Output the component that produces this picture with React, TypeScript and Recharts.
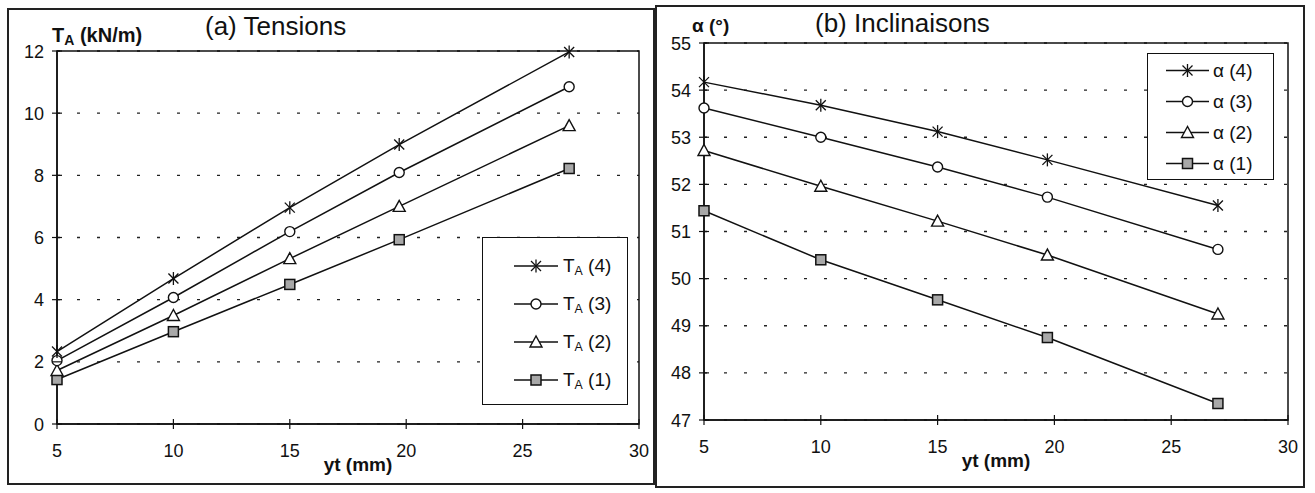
import React from "react";
import { LineChart, Line, XAxis, YAxis, CartesianGrid, ReferenceArea, Legend, Label } from "recharts";

const yt = [5, 10, 15, 19.7, 27];
const ta1 = [1.43, 2.97, 4.49, 5.93, 8.22];
const ta2 = [1.72, 3.49, 5.32, 7.0, 9.6];
const ta3 = [2.04, 4.07, 6.19, 8.09, 10.85];
const ta4 = [2.33, 4.68, 6.96, 8.99, 11.97];
const alpha1 = [51.44, 50.4, 49.55, 48.75, 47.35];
const alpha2 = [52.72, 51.96, 51.22, 50.5, 49.25];
const alpha3 = [53.62, 53.0, 52.37, 51.73, 50.62];
const alpha4 = [54.17, 53.68, 53.12, 52.52, 51.55];

const xTicks = [5, 10, 15, 20, 25, 30];
const taTicks = [0, 2, 4, 6, 8, 10, 12];
const alphaTicks = [47, 48, 49, 50, 51, 52, 53, 54, 55];

const taRows = yt.map((x, i) => ({ yt: x, s1: ta1[i], s2: ta2[i], s3: ta3[i], s4: ta4[i] }));
const alphaRows = yt.map((x, i) => ({ yt: x, s1: alpha1[i], s2: alpha2[i], s3: alpha3[i], s4: alpha4[i] }));

const FONT = "'Liberation Sans', Arial, sans-serif";
const INK = "#111";
const TICK = 5;
const GAP_Y = 8;
const GAP_X = 12;

type Kind = "star" | "circle" | "triangle" | "square";
const kinds: Kind[] = ["square", "triangle", "circle", "star"];

function Marker({ kind, cx, cy }: { kind: Kind; cx: number; cy: number }) {
  if (cx == null || cy == null) return null;
  if (kind === "star") {
    return (
      <g stroke={INK} strokeWidth={1.3}>
        <line x1={cx - 5} y1={cy - 5} x2={cx + 5} y2={cy + 5} />
        <line x1={cx - 5} y1={cy + 5} x2={cx + 5} y2={cy - 5} />
        <line x1={cx} y1={cy - 6.5} x2={cx} y2={cy + 6.5} />
      </g>
    );
  }
  if (kind === "circle") return <circle cx={cx} cy={cy} r={5} fill="#fff" stroke={INK} strokeWidth={1.4} />;
  if (kind === "triangle")
    return (
      <polygon
        points={`${cx},${cy - 6} ${cx - 6},${cy + 5} ${cx + 6},${cy + 5}`}
        fill="#fff"
        stroke={INK}
        strokeWidth={1.4}
      />
    );
  return <rect x={cx - 5} y={cy - 5} width={10} height={10} fill="#a8a8a8" stroke={INK} strokeWidth={1.5} />;
}

function YTick(p: any) {
  const ax = p.x + TICK + GAP_Y;
  return (
    <g>
      <line x1={ax - TICK} x2={ax + TICK} y1={p.y} y2={p.y} stroke={INK} strokeWidth={1.2} />
      <text x={p.x} y={p.y} dy={6.5} textAnchor="end" fontSize={18} fontFamily={FONT} fill={INK}>
        {p.payload.value}
      </text>
    </g>
  );
}

function XTick(p: any) {
  const ay = p.y - TICK - GAP_X;
  return (
    <g>
      <line x1={p.x} x2={p.x} y1={ay - TICK} y2={ay + TICK} stroke={INK} strokeWidth={1.2} />
      <text x={p.x} y={p.y} dy={15.5} textAnchor="middle" fontSize={18} fontFamily={FONT} fill={INK}>
        {p.payload.value}
      </text>
    </g>
  );
}

function LegendBox({ labels, box, row, padTop, line, textX, fontSize }: any) {
  return (
    <div
      style={{
        width: box.w,
        height: box.h,
        border: `1.5px solid ${INK}`,
        boxSizing: "border-box",
        background: "#fff",
        paddingTop: padTop,
        fontFamily: FONT,
        color: INK,
      }}
    >
      {[3, 2, 1, 0].map((i) => (
        <div key={i} style={{ position: "relative", height: row }}>
          <svg width={textX} height={row} style={{ position: "absolute", left: 0, top: 0 }}>
            <line x1={line[0]} x2={line[1]} y1={row / 2} y2={row / 2} stroke={INK} strokeWidth={1.5} />
            <Marker kind={kinds[i]} cx={(line[0] + line[1]) / 2} cy={row / 2} />
          </svg>
          <div
            style={{
              position: "absolute",
              left: textX,
              top: 0,
              height: row,
              lineHeight: `${row}px`,
              fontSize,
              whiteSpace: "nowrap",
            }}
          >
            {labels[i]}
          </div>
        </div>
      ))}
    </div>
  );
}

const taLabels = [1, 2, 3, 4].map((n) => (
  <span key={n}>
    T<sub style={{ fontSize: "0.65em", verticalAlign: "-0.25em" }}>A</sub> ({n})
  </span>
));
const alphaLabels = [1, 2, 3, 4].map((n) => <span key={n}>α ({n})</span>);

function lines() {
  return kinds.map((k, i) => (
    <Line
      key={k}
      type="linear"
      dataKey={`s${i + 1}`}
      stroke={INK}
      strokeWidth={1.5}
      isAnimationActive={false}
      dot={(p: any) => <Marker key={`${k}-${p.index}`} kind={k} cx={p.cx} cy={p.cy} />}
      activeDot={false}
    />
  ));
}

const axisLabelStyle = { fontWeight: 700, fontSize: 19, fill: INK, fontFamily: FONT };

export default function App() {
  return (
    <div
      style={{
        position: "absolute",
        left: 0,
        top: 0,
        width: 1315,
        height: 493,
        background: "#fff",
        fontFamily: FONT,
        color: INK,
        overflow: "hidden",
      }}
    >
      <div style={{ position: "absolute", left: 7, top: 8, width: 648, height: 477, border: `2px solid #222`, boxSizing: "border-box" }} />
      <div style={{ position: "absolute", left: 655, top: 5, width: 650, height: 483, border: `2px solid #222`, boxSizing: "border-box" }} />

      {/* (a) Tensions */}
      <div style={{ position: "absolute", left: 0, top: 0 }}>
        <LineChart width={660} height={493} data={taRows} margin={{ top: 51, right: 21, bottom: 39, left: 17 }}>
          <CartesianGrid vertical={false} stroke="#222" strokeWidth={1.3} strokeDasharray="3 17" />
          <XAxis
            type="number"
            dataKey="yt"
            domain={[5, 30]}
            ticks={xTicks}
            interval={0}
            height={30}
            tickSize={TICK}
            tickMargin={GAP_X}
            tickLine={false}
            axisLine={{ stroke: INK, strokeWidth: 1.5 }}
            tick={(p: any) => <XTick {...p} />}
          >
            <Label value="yt (mm)" position="bottom" offset={4} dx={10} style={axisLabelStyle} />
          </XAxis>
          <YAxis
            type="number"
            domain={[0, 12]}
            ticks={taTicks}
            interval={0}
            width={40}
            tickSize={TICK}
            tickMargin={GAP_Y}
            tickLine={false}
            axisLine={{ stroke: INK, strokeWidth: 1.5 }}
            tick={(p: any) => <YTick {...p} />}
          />
          <ReferenceArea x1={5} x2={30} y1={0} y2={12} fill="none" stroke={INK} strokeWidth={1.5} />
          {lines()}
          <Legend
            layout="vertical"
            align="center"
            verticalAlign="middle"
            wrapperStyle={{ left: 482, top: 237, width: 146, height: 168 }}
            content={() => (
              <LegendBox labels={taLabels} box={{ w: 146, h: 168 }} row={38} padTop={9} line={[31, 75]} textX={80} fontSize={19} />
            )}
          />
        </LineChart>
      </div>

      {/* (b) Inclinaisons */}
      <div style={{ position: "absolute", left: 655, top: 0 }}>
        <LineChart width={660} height={493} data={alphaRows} margin={{ top: 43, right: 27, bottom: 43, left: 9 }}>
          <CartesianGrid vertical={false} stroke="#222" strokeWidth={1.3} strokeDasharray="3 17" />
          <XAxis
            type="number"
            dataKey="yt"
            domain={[5, 30]}
            ticks={xTicks}
            interval={0}
            height={30}
            tickSize={TICK}
            tickMargin={GAP_X}
            tickLine={false}
            axisLine={{ stroke: INK, strokeWidth: 1.5 }}
            tick={(p: any) => <XTick {...p} />}
          >
            <Label value="yt (mm)" position="bottom" offset={4} style={axisLabelStyle} />
          </XAxis>
          <YAxis
            type="number"
            domain={[47, 55]}
            ticks={alphaTicks}
            interval={0}
            width={40}
            tickSize={TICK}
            tickMargin={GAP_Y}
            tickLine={false}
            axisLine={{ stroke: INK, strokeWidth: 1.5 }}
            tick={(p: any) => <YTick {...p} />}
          />
          <ReferenceArea x1={5} x2={30} y1={47} y2={55} fill="none" stroke={INK} strokeWidth={1.5} />
          {lines()}
          <Legend
            layout="vertical"
            align="center"
            verticalAlign="middle"
            wrapperStyle={{ left: 492, top: 53, width: 127, height: 127 }}
            content={() => (
              <LegendBox labels={alphaLabels} box={{ w: 127, h: 127 }} row={31} padTop={1} line={[18, 61]} textX={65} fontSize={19} />
            )}
          />
        </LineChart>
      </div>

      <div style={{ position: "absolute", left: 205, top: 11, fontSize: 26, lineHeight: "30px", whiteSpace: "nowrap" }}>(a) Tensions</div>
      <div style={{ position: "absolute", left: 52, top: 23, fontSize: 20, fontWeight: 700, lineHeight: "24px", whiteSpace: "nowrap" }}>
        T<sub style={{ fontSize: "0.7em", verticalAlign: "-0.2em" }}>A</sub> (kN/m)
      </div>
      <div style={{ position: "absolute", left: 815, top: 8, fontSize: 26, lineHeight: "30px", whiteSpace: "nowrap" }}>(b) Inclinaisons</div>
      <div style={{ position: "absolute", left: 692, top: 15, fontSize: 19, fontWeight: 700, lineHeight: "22px", whiteSpace: "nowrap" }}>α (°)</div>
    </div>
  );
}
